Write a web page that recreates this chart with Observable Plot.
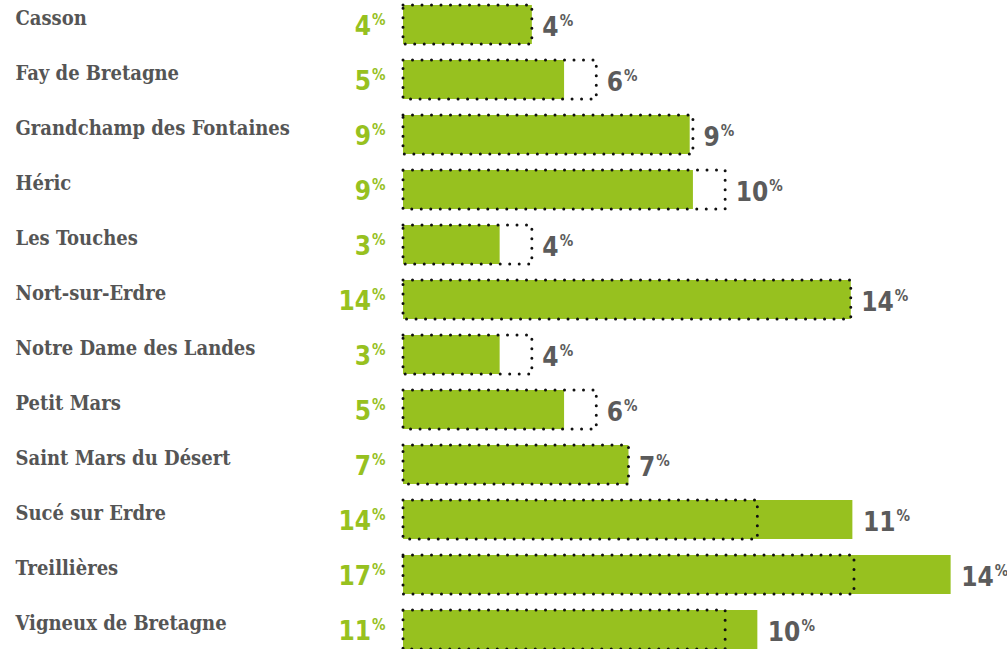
<!DOCTYPE html>
<html>
<head>
<meta charset="utf-8">
<script src="https://cdn.jsdelivr.net/npm/d3@7"></script>
<script src="https://cdn.jsdelivr.net/npm/@observablehq/plot@0.6"></script>
<style>
  html, body { margin: 0; padding: 0; background: #fff; overflow: hidden; }
  #chart { width: 1007px; height: 649px; overflow: hidden; }
</style>
</head>
<body>
<div id="chart"></div>
<script>
const communes = [
  "Casson", "Fay de Bretagne", "Grandchamp des Fontaines", "Héric", "Les Touches",
  "Nort-sur-Erdre", "Notre Dame des Landes", "Petit Mars", "Saint Mars du Désert",
  "Sucé sur Erdre", "Treillières", "Vigneux de Bretagne"
];
// green bars and their labels
const greenValues = [4, 5, 8.9, 9, 3, 13.9, 3, 5, 7, 13.95, 17, 11];
const greenLabels = [4, 5, 9, 9, 3, 14, 3, 5, 7, 14, 17, 11];
// dotted boxes and their labels
const dottedValues = [4, 6, 9, 10, 4, 13.9, 4, 6, 7, 11, 14, 10];
const dottedLabels = [4, 6, 9, 10, 4, 14, 4, 6, 7, 11, 14, 10];

const GREEN = "#97c11f";
const GRAY = "#5b5b5b";
const NUMFONT = "DejaVu Sans Condensed, DejaVu Sans, sans-serif";

const rows = communes.map((c, i) => ({
  commune: c,
  green: greenValues[i],
  greenLabel: greenLabels[i],
  dotted: dottedValues[i],
  dottedLabel: dottedLabels[i],
  end: Math.max(greenValues[i], dottedValues[i])
}));

const svg = Plot.plot({
  width: 1007,
  height: 653,
  marginLeft: 403,
  marginRight: 0,
  marginTop: 0,
  marginBottom: 0,
  style: { background: "#fff", overflow: "visible" },
  x: { domain: [0, 18.75], axis: null },
  y: { domain: communes, range: [0.4, 652.6], paddingInner: 0.3, paddingOuter: 0.05, axis: null },
  marks: [
    Plot.barX(rows, { x: "green", y: "commune", fill: GREEN }),
    Plot.barX(rows, {
      x: "dotted", y: "commune", fill: "none", stroke: "#111",
      strokeWidth: 3, strokeDasharray: "0,9.5", strokeLinecap: "round"
    }),
    Plot.text(rows, {
      x: 0, y: "commune", text: "commune", textAnchor: "start", dx: -388, dy: -6,
      fill: "#555555", fontFamily: "DejaVu Serif Condensed, DejaVu Serif, serif",
      fontWeight: "bold", fontSize: 20
    }),
    Plot.text(rows, {
      x: 0, y: "commune", text: d => String(d.greenLabel), textAnchor: "end", dx: -18, dy: 2,
      fill: GREEN, fontFamily: NUMFONT, fontWeight: "bold", fontSize: 26, className: "pct"
    }),
    Plot.text(rows, {
      x: "end", y: "commune", text: d => String(d.dottedLabel), textAnchor: "start", dx: 10, dy: 3,
      fill: GRAY, fontFamily: NUMFONT, fontWeight: "bold", fontSize: 26, className: "pct"
    })
  ]
});

// add the superscript "%" to the percentage labels
const ns = "http://www.w3.org/2000/svg";
let groups = Array.from(svg.querySelectorAll("g.pct"));
if (!groups.length) {
  groups = Array.from(svg.querySelectorAll("g")).filter(g =>
    (g.getAttribute("font-family") || "").includes("Sans") && g.querySelector("text"));
}
groups.forEach(g => {
  g.querySelectorAll("text").forEach(t => {
    const s = document.createElementNS(ns, "tspan");
    s.setAttribute("font-size", "15");
    s.setAttribute("dy", "-10");
    s.setAttribute("dx", "1");
    s.textContent = "%";
    t.appendChild(s);
  });
});

document.getElementById("chart").appendChild(svg);
</script>
</body>
</html>
